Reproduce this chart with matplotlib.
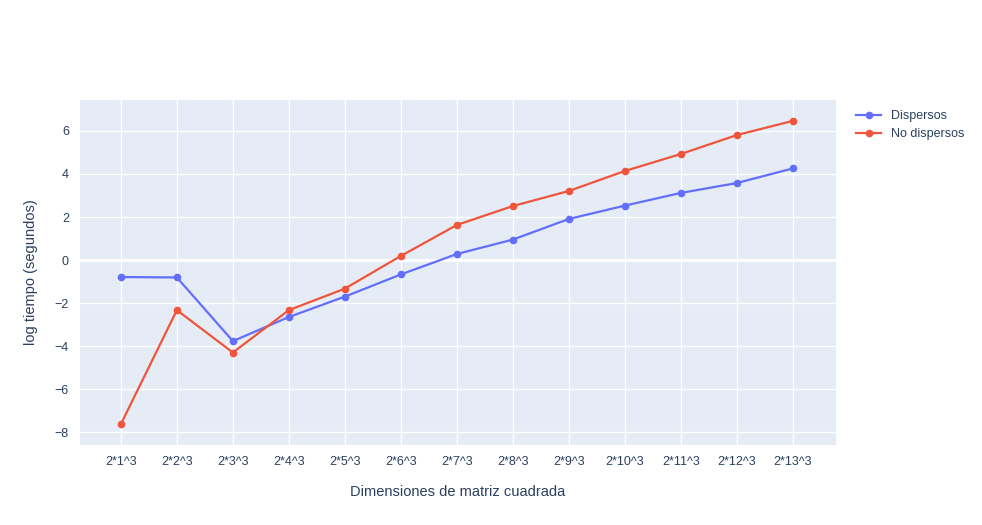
import numpy as np
from matplotlib import pyplot as plt

categories = ["2*%d^3" % i for i in range(1, 14)]
dispersos = [-0.79, -0.81, -3.77, -2.65, -1.70, -0.67, 0.28, 0.95, 1.91, 2.53, 3.12, 3.58, 4.26]
no_dispersos = [-7.63, -2.33, -4.30, -2.33, -1.33, 0.19, 1.63, 2.51, 3.21, 4.14, 4.93, 5.81, 6.47]

plt.rcParams['font.family'] = ['Liberation Sans', 'DejaVu Sans']
fig = plt.figure(figsize=(9.82, 5.25), dpi=100)
ax = fig.add_axes([80 / 982, 80 / 525, 756 / 982, 345 / 525])
ax.set_facecolor('#E5ECF6')

x = np.arange(len(categories))
ax.plot(x, dispersos, color='#636EFA', lw=1.6, marker='o', ms=4.5, label='Dispersos', zorder=3)
ax.plot(x, no_dispersos, color='#EF553B', lw=1.6, marker='o', ms=4.5, label='No dispersos', zorder=3)

ax.set_xlim(-0.73, 12.77)
ax.set_ylim(-8.6, 7.44)
ax.set_xticks(x)
ax.set_xticklabels(categories)
ax.set_yticks([-8, -6, -4, -2, 0, 2, 4, 6])
ax.set_yticklabels(['\u22128', '\u22126', '\u22124', '\u22122', '0', '2', '4', '6'])
ax.grid(color='white', lw=1, zorder=0)
ax.axhline(0, color='white', lw=2, zorder=1)
ax.set_axisbelow(True)
for s in ax.spines.values():
    s.set_visible(False)
ax.tick_params(length=0, labelsize=9, colors='#2a3f5f', pad=8)
ax.set_xlabel('Dimensiones de matriz cuadrada', fontsize=10.5, color='#2a3f5f', labelpad=12)
ax.set_ylabel('log tiempo (segundos)', fontsize=10.5, color='#2a3f5f', labelpad=12)

leg = ax.legend(loc='upper left', bbox_to_anchor=(1.02, 0.985), frameon=False,
                fontsize=9, labelcolor='#2a3f5f', handlelength=2, borderaxespad=0)

fig.savefig('out.png', dpi=100)
